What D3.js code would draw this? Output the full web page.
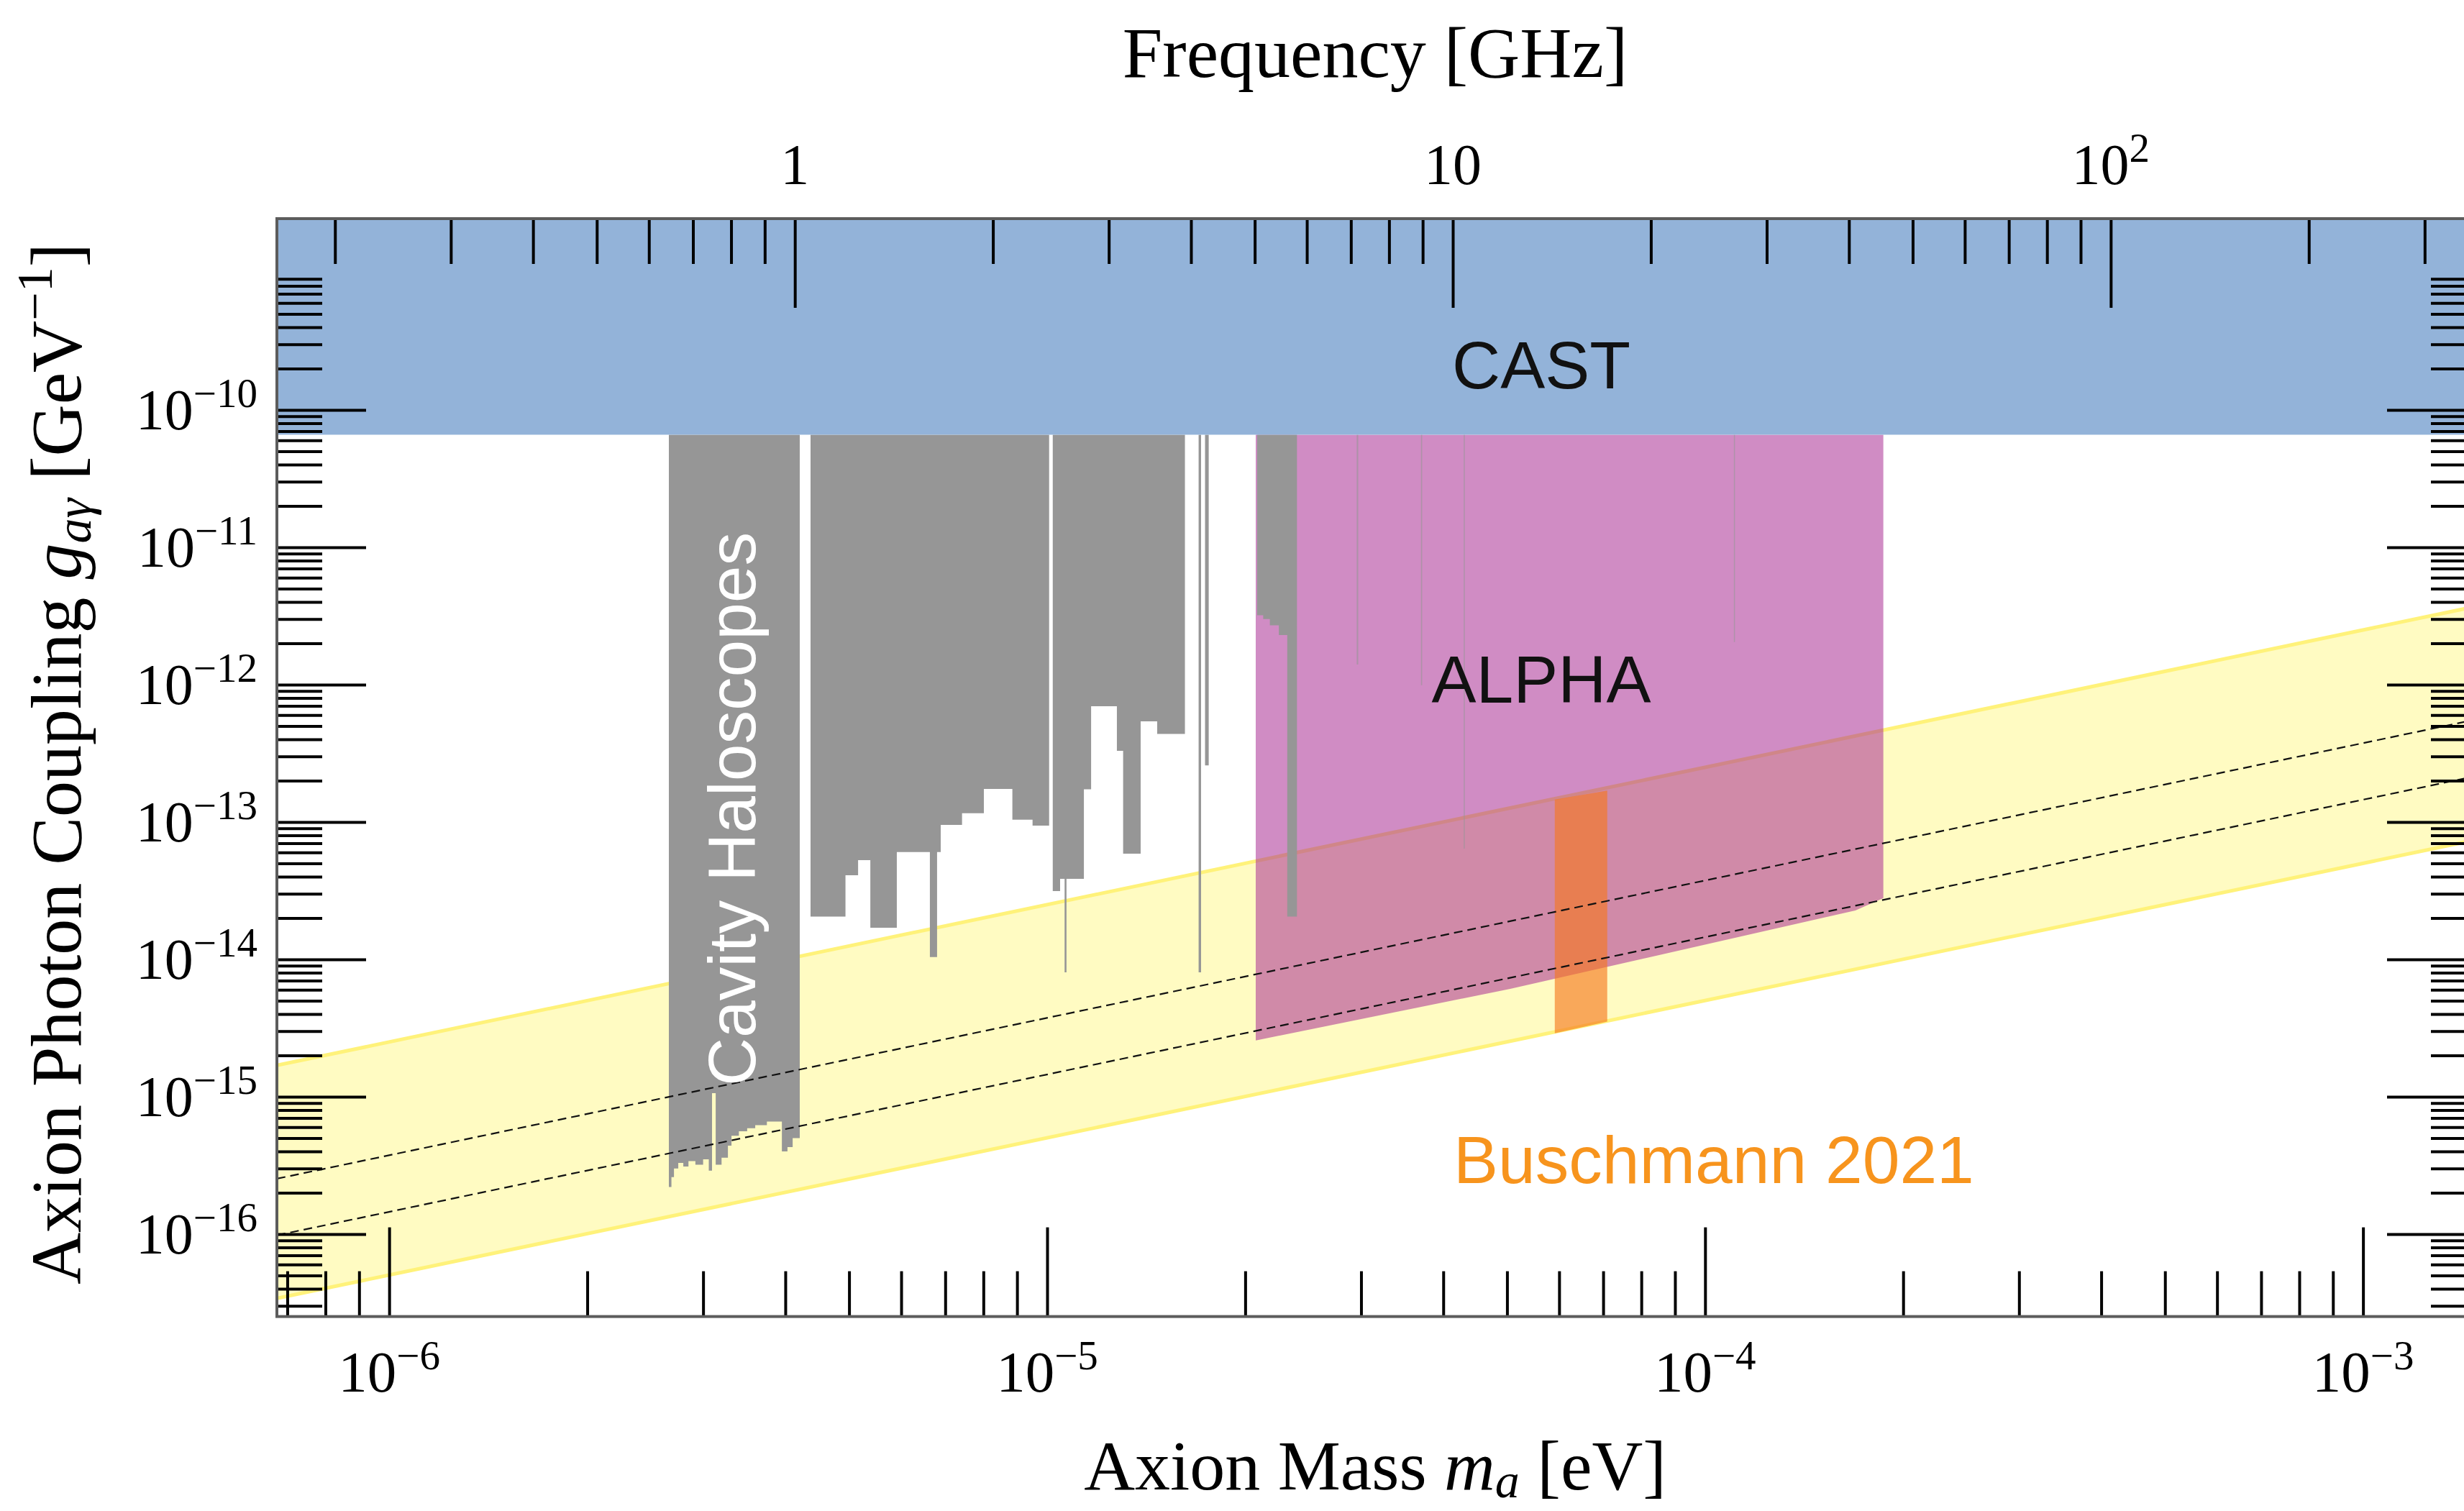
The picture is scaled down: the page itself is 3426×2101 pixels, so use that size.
<!DOCTYPE html>
<html>
<head>
<meta charset="utf-8">
<script src="https://cdn.jsdelivr.net/npm/d3@7/dist/d3.min.js"></script>
<style>
html, body { margin:0; padding:0; background:#ffffff; overflow:hidden; }
svg { display:block; }
</style>
</head>
<body>
<svg id="chart" width="3426" height="2101"></svg>
<script>
// ---------------- data ----------------
const massDomain = [6.75e-7, 1.486e-3];        // eV
const couplingDomain = [2.51e-17, 2.47e-9];    // GeV^-1
const eVperGHz = 4.1357e-6;

const massTickValues = [1e-6, 1e-5, 1e-4, 1e-3];
const massTickExponents = ["−6", "−5", "−4", "−3"];
const couplingTickValues = [1e-16, 1e-15, 1e-14, 1e-13, 1e-12, 1e-11, 1e-10];
const couplingTickExponents = ["−16", "−15", "−14", "−13", "−12", "−11", "−10"];
const couplingTickMax = 1e-9;
const freqTickValues = [1, 10, 100];
const freqTickBase = ["1", "10", "10"];
const freqTickExponents = ["", "", "2"];

const castLimit = 6.6e-11;

const qcdMass = [6.75e-7, 1.5e-3];
const qcdBandUpper = [1.69e-15, 3.75e-12];
const qcdBandLower = [3.4e-17, 7.5e-14];
const ksvzLine = [2.53e-16, 5.63e-13];
const dfszLine = [9.8e-17, 2.18e-13];

const alphaMass = [2.075e-5, 5.055e-5, 1.692e-4, 1.866e-4];
const alphaLower = [2.57e-15, 6.1e-15, 2.27e-14, 2.79e-14];

const buschMass = [5.909e-5, 7.1e-5];
const buschUpper = [1.459e-13, 1.694e-13];
const buschLower = [2.9e-15, 3.52e-15];

// cavity haloscopes: step edges (mass, eV) and lower limit of each step (GeV^-1)
const admxEdges = [2.661e-6, 2.685e-6, 2.709e-6, 2.75e-6, 2.799e-6, 2.85e-6, 2.92e-6, 3.0e-6, 3.06e-6, 3.095e-6, 3.135e-6, 3.20e-6, 3.272e-6, 3.313e-6, 3.40e-6, 3.50e-6, 3.60e-6, 3.75e-6, 3.952e-6, 4.03e-6, 4.104e-6, 4.207e-6];
const admxLower = [2.2e-16, 2.6e-16, 3.0e-16, 3.3e-16, 3.1e-16, 3.4e-16, 3.2e-16, 3.5e-16, 2.9e-16, 1.06e-15, 3.2e-16, 3.6e-16, 4.4e-16, 5.2e-16, 5.6e-16, 5.9e-16, 6.2e-16, 6.6e-16, 4.0e-16, 4.3e-16, 5.0e-16];

const haystacEdges = [4.369e-6, 4.937e-6, 5.160e-6, 5.386e-6, 5.909e-6, 6.634e-6, 6.803e-6, 6.890e-6, 7.424e-6, 8.013e-6, 8.854e-6, 9.502e-6, 1.0069e-5];
const haystacLower = [2.05e-14, 4.10e-14, 5.28e-14, 1.70e-14, 6.05e-14, 1.04e-14, 6.05e-14, 9.53e-14, 1.16e-13, 1.74e-13, 1.04e-13, 9.42e-14];

const capEdges = [1.0198e-5, 1.0464e-5, 1.063e-5, 1.070e-5, 1.1372e-5, 1.1663e-5, 1.2764e-5, 1.3046e-5, 1.3871e-5, 1.4697e-5, 1.6196e-5];
const capLower = [3.14e-14, 3.86e-14, 8.05e-15, 3.86e-14, 1.73e-13, 6.97e-13, 3.30e-13, 5.88e-14, 5.41e-13, 4.38e-13];

const highEdges = [2.085e-5, 2.13e-5, 2.18e-5, 2.25e-5, 2.317e-5, 2.397e-5];
const highLower = [3.2e-12, 3.0e-12, 2.7e-12, 2.3e-12, 2.05e-14];

// narrow exclusions: [mass from, mass to, lower limit]
const narrowSpikes = [[1.6991e-5, 1.7137e-5, 8.05e-15], [1.7377e-5, 1.7601e-5, 2.58e-13]];
const faintLines = [[2.955e-5, 2.97e-5, 1.40e-12], [3.70e-5, 3.715e-5, 9.9e-13], [4.297e-5, 4.313e-5, 6.4e-14], [1.106e-4, 1.110e-4, 2.04e-12]];

// ---------------- layout ----------------
const L = 385, R = 3443, T = 304, B = 1830.6;
const SERIF = "'Liberation Serif', 'Times New Roman', serif";
const SANS = "'Liberation Sans', Arial, sans-serif";

const svg = d3.select("#chart");
const x = d3.scaleLog().domain(massDomain).range([L, R]);
const y = d3.scaleLog().domain(couplingDomain).range([B, T]);
const fx = d3.scaleLog().domain(massDomain.map(m => m / eVperGHz)).range([L, R]);

svg.append("defs").append("clipPath").attr("id", "plotclip")
  .append("rect").attr("x", L).attr("y", T).attr("width", R - L).attr("height", B - T);
const plot = svg.append("g").attr("clip-path", "url(#plotclip)");

const line = d3.line().x(d => x(d.m)).y(d => y(d.g));
const band = d3.area().x(d => x(d.m)).y0(d => y(d.lo)).y1(d => y(d.hi));
const stepArea = d3.area().curve(d3.curveStepAfter).x(d => x(d.m)).y0(d => y(d.lo)).y1(() => y(castLimit));

// QCD band
plot.append("path")
  .datum(qcdMass.map((m, i) => ({m, lo: qcdBandLower[i], hi: qcdBandUpper[i]})))
  .attr("d", band).attr("fill", "#fffbc2");
[qcdBandUpper, qcdBandLower].forEach(arr => {
  plot.append("path").datum(qcdMass.map((m, i) => ({m, g: arr[i]})))
    .attr("d", line).attr("fill", "none").attr("stroke", "#fff27a").attr("stroke-width", 5);
});

// ALPHA
plot.append("path")
  .datum(alphaMass.map((m, i) => ({m, lo: alphaLower[i], hi: castLimit})))
  .attr("d", band).attr("fill", "rgb(169,46,148)").attr("fill-opacity", 0.55);

// Buschmann 2021
plot.append("path")
  .datum(buschMass.map((m, i) => ({m, lo: buschLower[i], hi: buschUpper[i]})))
  .attr("d", band).attr("fill", "rgb(245,119,30)").attr("fill-opacity", 0.63);

// Cavity haloscopes
const GREY = "#969696";
function stepData(edges, lower) {
  return edges.map((m, i) => ({m, lo: lower[Math.min(i, lower.length - 1)]}));
}
[[admxEdges, admxLower], [haystacEdges, haystacLower], [capEdges, capLower], [highEdges, highLower]]
  .forEach(([e, v]) => {
    plot.append("path").datum(stepData(e, v)).attr("d", stepArea).attr("fill", GREY);
  });
narrowSpikes.forEach(([m0, m1, g]) => {
  plot.append("path").datum([{m: m0, lo: g}, {m: m1, lo: g}]).attr("d", stepArea).attr("fill", GREY);
});
faintLines.forEach(([m0, m1, g]) => {
  plot.append("path").datum([{m: m0, lo: g}, {m: m1, lo: g}]).attr("d", stepArea)
    .attr("fill", GREY).attr("fill-opacity", 0.6);
});

// CAST
plot.append("rect")
  .attr("x", L).attr("width", R - L)
  .attr("y", y(couplingDomain[1])).attr("height", y(castLimit) - y(couplingDomain[1]))
  .attr("fill", "#93b3d9");

// KSVZ / DFSZ lines
[ksvzLine, dfszLine].forEach(arr => {
  plot.append("path").datum(qcdMass.map((m, i) => ({m, g: arr[i]})))
    .attr("d", line).attr("fill", "none").attr("stroke", "#111")
    .attr("stroke-width", 2.2).attr("stroke-dasharray", "12,7");
});

// ---------------- axes ----------------
const isMajor = v => Math.abs(Math.log10(v) - Math.round(Math.log10(v))) < 1e-6;
function styleAxis(sel) {
  sel.select(".domain").remove();
  sel.selectAll(".tick text").remove();
  sel.selectAll(".tick line").attr("stroke", "#000").attr("stroke-width", 4);
}
const MAJ = 124, MIN = 63;

// bottom (mass)
const xMinor = x.ticks().filter(v => !isMajor(v));
svg.append("g").attr("transform", `translate(0,${B})`)
  .call(d3.axisTop(x).tickValues(xMinor).tickSize(MIN).tickFormat("")).call(styleAxis);
svg.append("g").attr("transform", `translate(0,${B})`)
  .call(d3.axisTop(x).tickValues(massTickValues).tickSize(MAJ).tickFormat("")).call(styleAxis);

// top (frequency)
const fMinor = fx.ticks().filter(v => !isMajor(v));
svg.append("g").attr("transform", `translate(0,${T})`)
  .call(d3.axisBottom(fx).tickValues(fMinor).tickSize(MIN).tickFormat("")).call(styleAxis);
svg.append("g").attr("transform", `translate(0,${T})`)
  .call(d3.axisBottom(fx).tickValues(freqTickValues).tickSize(MAJ).tickFormat("")).call(styleAxis);

// left / right (coupling)
const yMinor = y.ticks().filter(v => !isMajor(v) && v < couplingTickMax);
[[L, d3.axisRight], [R, d3.axisLeft]].forEach(([px, ax]) => {
  svg.append("g").attr("transform", `translate(${px},0)`)
    .call(ax(y).tickValues(yMinor).tickSize(MIN).tickFormat("")).call(styleAxis);
  svg.append("g").attr("transform", `translate(${px},0)`)
    .call(ax(y).tickValues(couplingTickValues).tickSize(MAJ).tickFormat("")).call(styleAxis);
});

// frame
svg.append("rect").attr("x", L).attr("y", T).attr("width", R - L).attr("height", B - T)
  .attr("fill", "none").attr("stroke", "#5c5c5c").attr("stroke-width", 4);

// ---------------- tick labels ----------------
function powLabel(sel, base, exp) {
  sel.append("tspan").text(base);
  if (exp) sel.append("tspan").attr("font-size", 57).attr("dy", -31).text(exp);
}
massTickValues.forEach((v, i) => {
  const t = svg.append("text").attr("x", x(v)).attr("y", 1935)
    .attr("text-anchor", "middle").attr("font-family", SERIF).attr("font-size", 81).attr("fill", "#000");
  powLabel(t, "10", massTickExponents[i]);
});
couplingTickValues.forEach((v, i) => {
  const t = svg.append("text").attr("x", 358).attr("y", y(v) + 27)
    .attr("text-anchor", "end").attr("font-family", SERIF).attr("font-size", 80).attr("fill", "#000");
  powLabel(t, "10", couplingTickExponents[i]);
});
freqTickValues.forEach((v, i) => {
  const t = svg.append("text").attr("x", fx(v)).attr("y", 256)
    .attr("text-anchor", "middle").attr("font-family", SERIF).attr("font-size", 80).attr("fill", "#000");
  powLabel(t, freqTickBase[i], freqTickExponents[i]);
});

// ---------------- axis titles ----------------
svg.append("text").attr("x", 1912).attr("y", 107).attr("text-anchor", "middle")
  .attr("font-family", SERIF).attr("font-size", 100).attr("fill", "#000").text("Frequency [GHz]");

const xt = svg.append("text").attr("x", 1912).attr("y", 2071).attr("text-anchor", "middle")
  .attr("font-family", SERIF).attr("font-size", 98).attr("fill", "#000");
xt.append("tspan").text("Axion Mass ");
xt.append("tspan").attr("font-style", "italic").text("m");
xt.append("tspan").attr("font-style", "italic").attr("font-size", 68).attr("dy", 11).text("a");
xt.append("tspan").attr("dy", -11).text(" [eV]");

const yt = svg.append("text").attr("transform", "translate(112,1062) rotate(-90)")
  .attr("text-anchor", "middle").attr("font-family", SERIF).attr("font-size", 100).attr("fill", "#000");
yt.append("tspan").text("Axion Photon Coupling ");
yt.append("tspan").attr("font-style", "italic").text("g");
yt.append("tspan").attr("font-style", "italic").attr("font-size", 70).attr("dy", 14).text("aγ");
yt.append("tspan").attr("dy", -14).text(" [GeV");
yt.append("tspan").attr("font-size", 70).attr("dy", -40).text("−1");
yt.append("tspan").attr("dy", 40).text("]");

// ---------------- region labels ----------------
svg.append("text").attr("x", 2143).attr("y", 540).attr("text-anchor", "middle")
  .attr("font-family", SANS).attr("font-size", 93).attr("fill", "#111").text("CAST");
svg.append("text").attr("x", 2143).attr("y", 977).attr("text-anchor", "middle")
  .attr("font-family", SANS).attr("font-size", 93).attr("fill", "#111").text("ALPHA");
svg.append("text").attr("x", 2021).attr("y", 1645).attr("text-anchor", "start")
  .attr("font-family", SANS).attr("font-size", 93).attr("fill", "#f7941d").text("Buschmann 2021");
svg.append("text").attr("transform", "translate(1050,1125) rotate(-90)").attr("text-anchor", "middle")
  .attr("font-family", SANS).attr("font-size", 93).attr("fill", "#ffffff").text("Cavity Haloscopes");
</script>
</body>
</html>
